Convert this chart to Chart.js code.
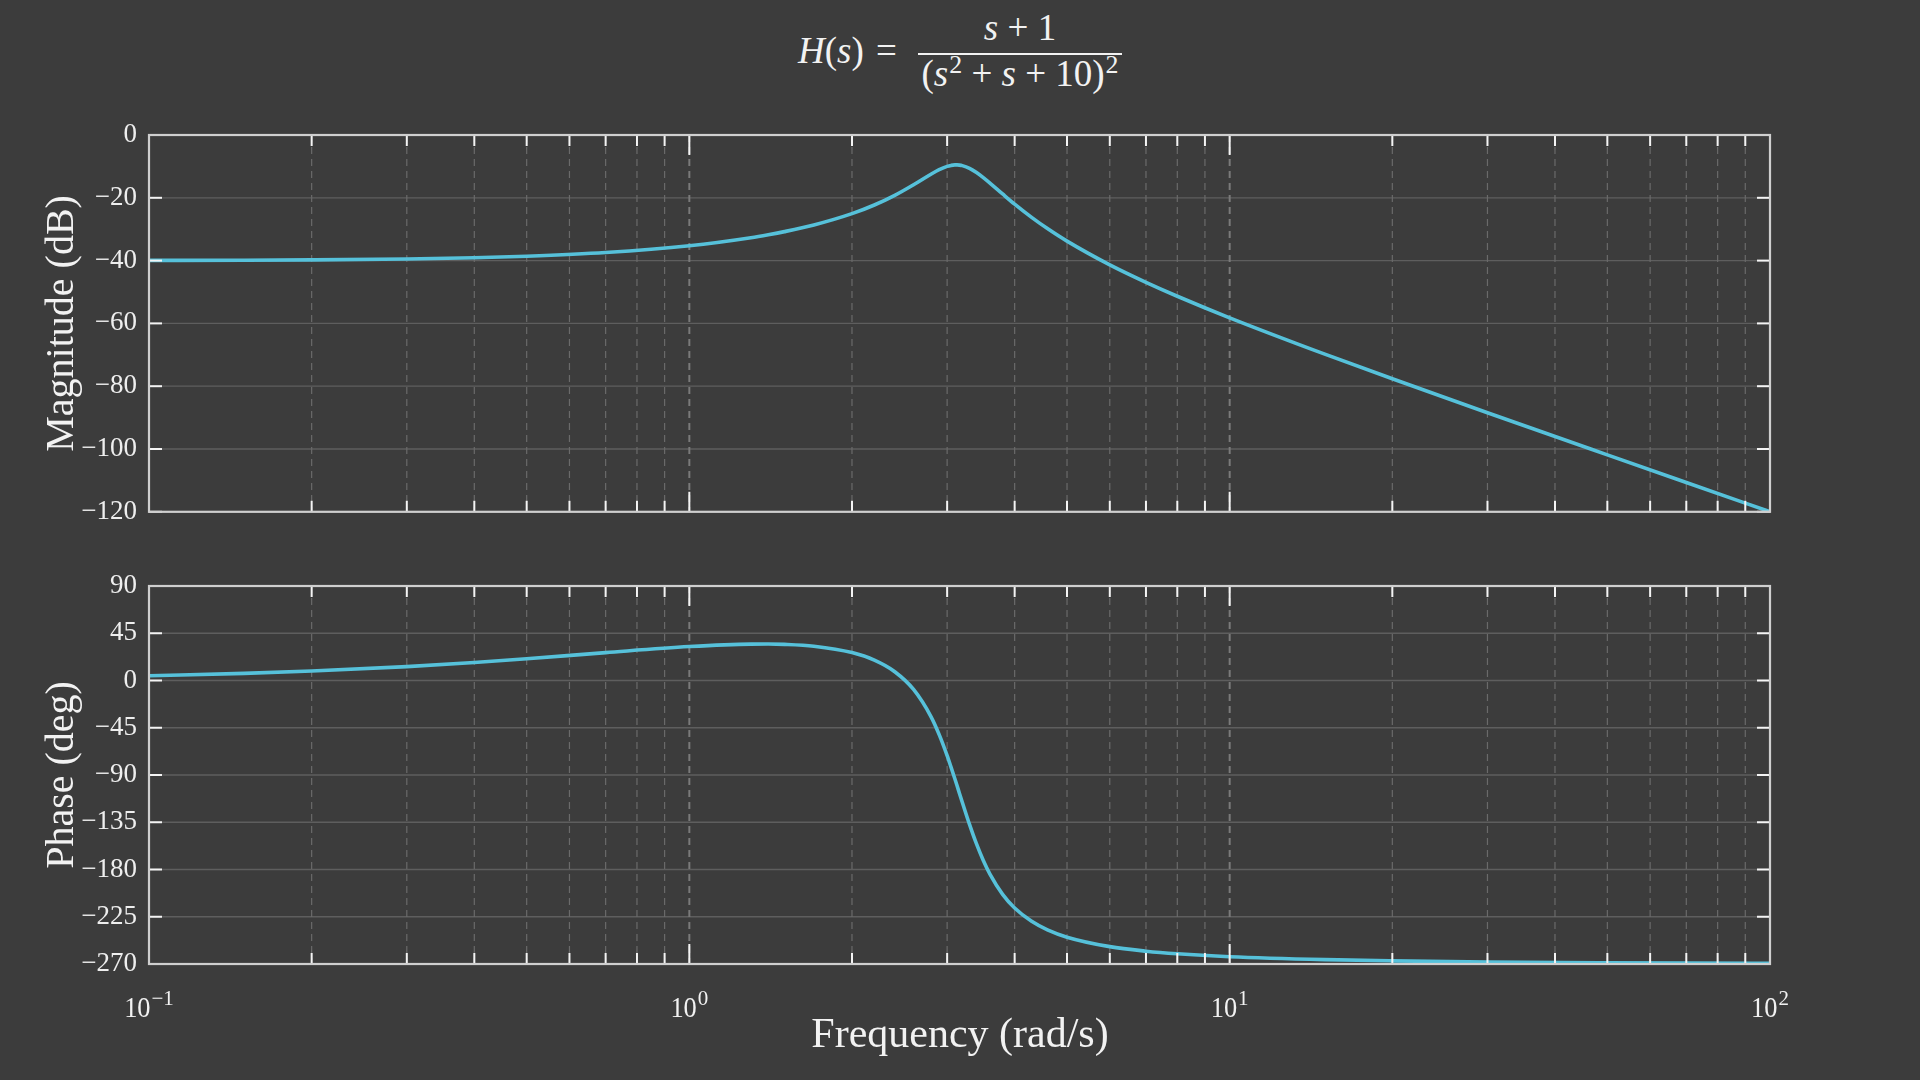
<!DOCTYPE html>
<html>
<head>
<meta charset="utf-8">
<script src="https://cdn.jsdelivr.net/npm/chart.js@4.4.0/dist/chart.umd.min.js"></script>
<style>
html, body { margin: 0; padding: 0; background: #3c3c3c; }
body { width: 1920px; height: 1080px; position: relative; overflow: hidden; font-family: "Liberation Serif", serif; color: #f2f2f2; }
canvas { position: absolute; left: 0; }
.t { position: absolute; line-height: 1; white-space: nowrap; font-size: 37px; }
.c { text-align: center; }
.t sup { font-size: 0.7em; line-height: 0; vertical-align: 0.5em; margin-left: 1px; }
.bar { position: absolute; height: 1.6px; background: #f2f2f2; }
.xt { position: absolute; left: 0; width: 1920px; text-align: center; line-height: 1; font-size: 42px; }
</style>
</head>
<body>
<div class="t" style="left:798px;top:32px"><i>H</i>(<i>s</i>)</div>
<div class="t" style="left:876px;top:32px">=</div>
<div class="bar" style="left:918px;top:53px;width:204px"></div>
<div class="t c" style="left:918px;width:204px;top:9px"><i>s</i> + 1</div>
<div class="t c" style="left:918px;width:204px;top:55px">(<i>s</i><sup>2</sup> + <i>s</i> + 10)<sup>2</sup></div>

<canvas id="mag" width="1920" height="540" style="top:0"></canvas>
<canvas id="phase" width="1920" height="540" style="top:540px"></canvas>

<div class="xt" style="top:1012px">Frequency (rad/s)</div>

<script>
// frequencies (rad/s) and the response
const freq = [0.1, 0.15, 0.2, 0.3, 0.4, 0.5, 0.7, 1, 1.3, 1.4, 1.5, 1.7, 2, 2.2, 2.4, 2.6, 2.8, 2.9, 3.0, 3.05,
    3.1, 3.13, 3.162, 3.2, 3.3, 3.4, 3.5, 3.6, 3.8, 4.0, 4.3, 4.6, 5, 6, 7, 8, 10, 15, 20, 30, 50, 70, 100];
const magDb = [-39.94, -39.87, -39.76, -39.48, -39.09, -38.61, -37.44, -35.27, -32.70, -31.76, -30.77, -28.66,
    -25.05, -22.29, -19.21, -15.84, -12.48, -11.04, -10.00, -9.69,
    -9.53, -9.53, -9.59, -9.75, -10.60, -11.93, -13.55, -15.29, -18.78, -22.02, -26.24, -29.81, -33.81,
    -41.37, -46.93, -51.36, -58.23, -69.80, -77.63, -88.44, -101.87, -110.67, -119.98];
const phaseDeg = [4.56, 6.81, 9.01, 13.23, 17.15, 20.69, 26.57, 32.32, 34.65, 34.71, 34.40, 32.64,
    26.57, 19.37, 8.36, -8.54, -34.36, -51.55, -71.57, -82.5,
    -93.54, -100.29, -107.55, -115.93, -137.04, -155.68, -171.42, -184.38, -203.63, -216.66, -229.37, -237.46, -244.44,
    -253.47, -257.78, -260.27, -263.03, -265.83, -266.99, -268.05, -268.85, -269.18, -269.43];

// axis ticks
const majorFreq = [0.1, 1, 10, 100];
const decadeExp = ['\u22121', '0', '1', '2'];
const minorFreq = [0.2, 0.3, 0.4, 0.5, 0.6, 0.7, 0.8, 0.9, 2, 3, 4, 5, 6, 7, 8, 9, 20, 30, 40, 50, 60, 70, 80, 90];

const FONT = '"Liberation Serif", serif';
const LINE = '#56c1da';

function seg(ctx, x1, y1, x2, y2) {
    ctx.beginPath(); ctx.moveTo(x1, y1); ctx.lineTo(x2, y2); ctx.stroke();
}

const decor = {
    id: 'decor',
    beforeDatasetsDraw(chart) {
        const { ctx, chartArea: a, scales: { x, y } } = chart;
        ctx.save();
        ctx.strokeStyle = '#5e5e5e';
        ctx.lineWidth = 1.3;
        y.ticks.forEach(t => {
            const p = y.getPixelForValue(t.value);
            seg(ctx, a.left, p, a.right, p);
        });
        ctx.setLineDash([7, 5]);
        ctx.strokeStyle = '#6a6a6a';
        ctx.lineWidth = 1.2;
        minorFreq.forEach(f => {
            const p = x.getPixelForValue(f);
            seg(ctx, p, a.top, p, a.bottom);
        });
        ctx.strokeStyle = '#7a7a7a';
        ctx.lineWidth = 2;
        majorFreq.forEach(f => {
            const p = x.getPixelForValue(f);
            seg(ctx, p, a.top, p, a.bottom);
        });
        ctx.restore();
    },
    afterDatasetsDraw(chart, args, opts) {
        const { ctx, chartArea: a, scales: { x, y } } = chart;
        ctx.save();
        // inward ticks
        ctx.strokeStyle = '#f4f4f4';
        ctx.lineWidth = 2;
        majorFreq.forEach(f => {
            const p = x.getPixelForValue(f);
            seg(ctx, p, a.top, p, a.top + 20);
            seg(ctx, p, a.bottom, p, a.bottom - 20);
        });
        minorFreq.forEach(f => {
            const p = x.getPixelForValue(f);
            seg(ctx, p, a.top, p, a.top + 11);
            seg(ctx, p, a.bottom, p, a.bottom - 11);
        });
        y.ticks.forEach(t => {
            const p = y.getPixelForValue(t.value);
            seg(ctx, a.left, p, a.left + 13, p);
            seg(ctx, a.right, p, a.right - 13, p);
        });
        // frame
        ctx.strokeStyle = '#cfcfcf';
        ctx.lineWidth = 2.2;
        ctx.strokeRect(a.left, a.top, a.right - a.left, a.bottom - a.top);

        if (opts.xLabels) {
            ctx.fillStyle = '#f2f2f2';
            ctx.textBaseline = 'alphabetic';
            majorFreq.forEach((f, i) => {
                const px = x.getPixelForValue(f);
                ctx.font = '30px ' + FONT;
                const wb = ctx.measureText('10').width * 0.88;
                ctx.font = '21px ' + FONT;
                const we = ctx.measureText(decadeExp[i]).width;
                const x0 = px - (wb + we + 1) / 2;
                ctx.save();
                ctx.translate(x0, a.bottom + 53);
                ctx.scale(0.88, 1);
                ctx.font = '30px ' + FONT;
                ctx.fillText('10', 0, 0);
                ctx.restore();
                ctx.font = '21px ' + FONT;
                ctx.fillText(decadeExp[i], x0 + wb + 1, a.bottom + 41);
            });
        }
        ctx.restore();
    }
};

function makeChart(id, values, yMin, yMax, step, title, pad, xLabels) {
    return new Chart(document.getElementById(id), {
        type: 'line',
        data: {
            datasets: [{
                data: freq.map((f, i) => ({ x: f, y: values[i] })),
                borderColor: LINE,
                borderWidth: 3.6,
                pointRadius: 0,
                fill: false,
                cubicInterpolationMode: 'monotone'
            }]
        },
        options: {
            responsive: false,
            animation: false,
            devicePixelRatio: 1,
            events: [],
            layout: { padding: pad },
            plugins: {
                legend: { display: false },
                tooltip: { enabled: false },
                decor: { xLabels: xLabels }
            },
            scales: {
                x: { type: 'logarithmic', min: 0.1, max: 100, display: false },
                y: {
                    min: yMin, max: yMax,
                    afterFit(s) { s.width = 111; },
                    grid: { display: false, drawTicks: false },
                    border: { display: false },
                    ticks: {
                        stepSize: step,
                        padding: 12,
                        color: '#eeeeee',
                        font: { family: FONT, size: 27 },
                        callback: v => String(v).replace('-', '\u2212')
                    },
                    title: {
                        display: true,
                        text: title,
                        color: '#f2f2f2',
                        padding: 0,
                        font: { family: FONT, size: 40 }
                    }
                }
            }
        },
        plugins: [decor]
    });
}

makeChart('mag', magDb, -120, 0, 20, 'Magnitude (dB)', { left: 38, right: 150, top: 135, bottom: 27 }, false);
makeChart('phase', phaseDeg, -270, 90, 45, 'Phase (deg)', { left: 38, right: 150, top: 46, bottom: 116 }, true);
</script>
</body>
</html>
